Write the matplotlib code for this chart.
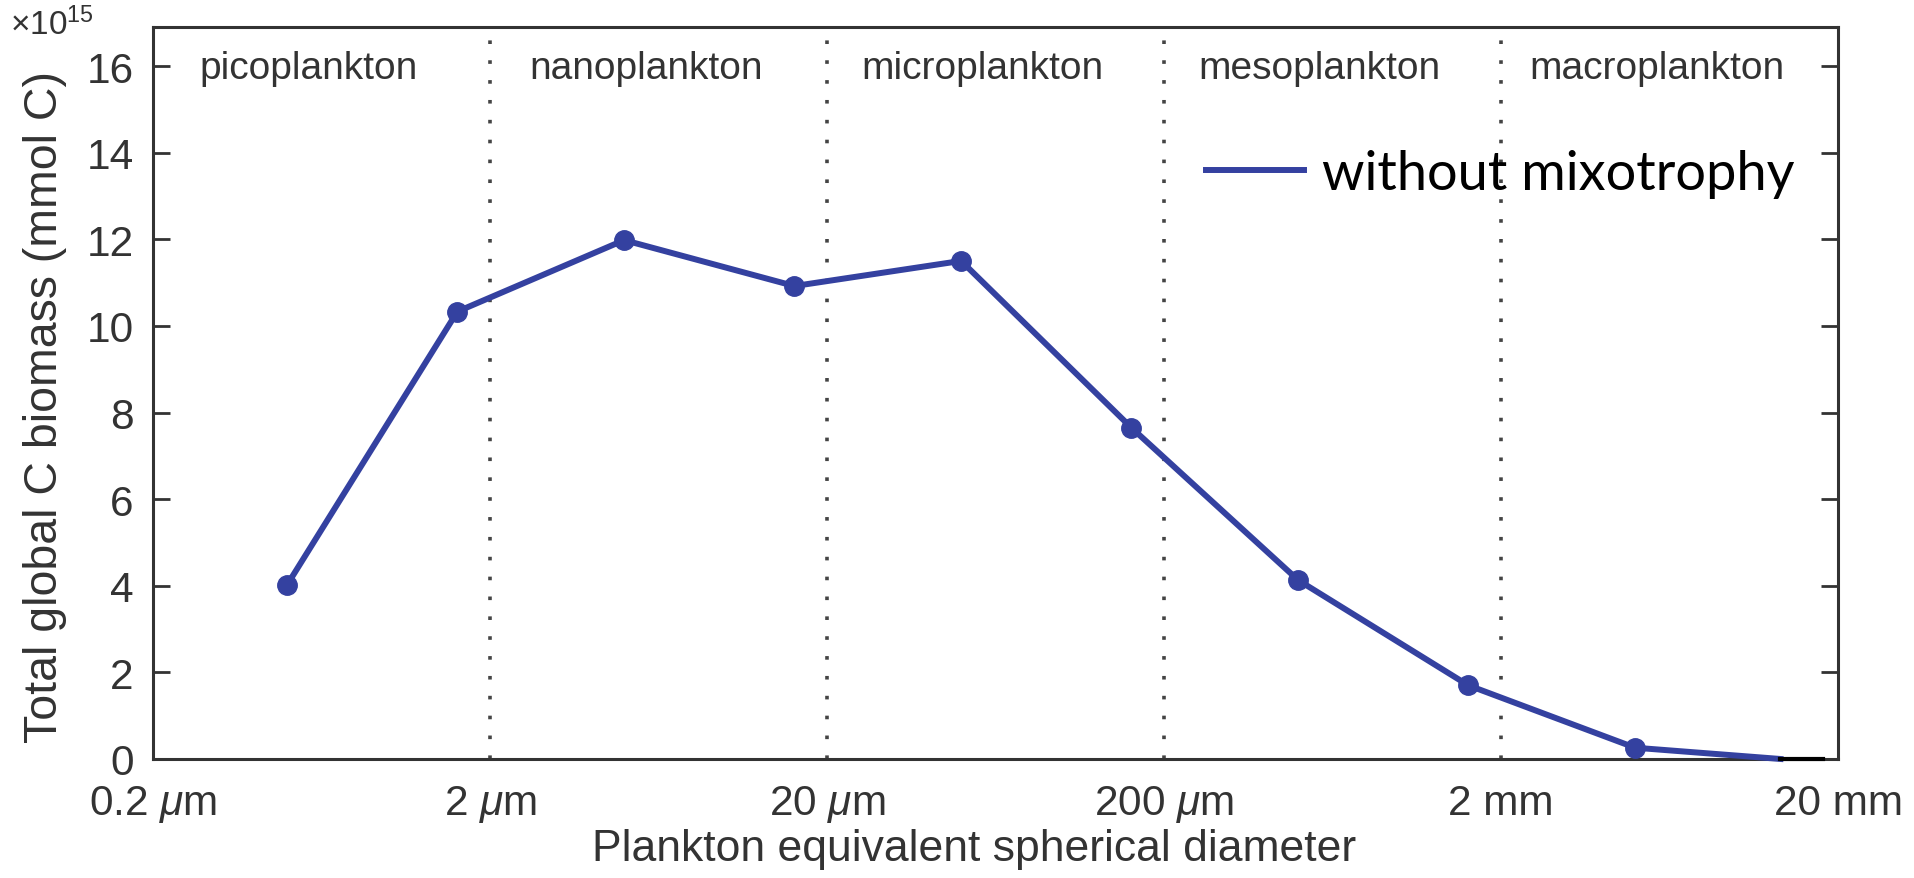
import numpy as np
import matplotlib
matplotlib.use('Agg')
import matplotlib.pyplot as plt
from matplotlib.ticker import FixedLocator, NullLocator

# plankton size (um) and biomass (x1e15 mmol C)
diam = [0.5, 1.6, 5, 16, 50, 160, 500, 1600, 5000, 13500]
biomass = [4.02, 10.33, 11.98, 10.92, 11.50, 7.65, 4.13, 1.70, 0.26, 0.0]

# short black stub left over at the bottom right of the original
stub_x = [13500, 18000]
stub_y = [0, 0]

xticks = [0.2, 2, 20, 200, 2000, 20000]
xticklabels = ['0.2 $\\mu$m', '2 $\\mu$m', '20 $\\mu$m', '200 $\\mu$m', '2 mm', '20 mm']
yticks = [0, 2, 4, 6, 8, 10, 12, 14, 16]

class_edges = [2, 20, 200, 2000]
class_names = ['picoplankton', 'nanoplankton', 'microplankton', 'mesoplankton', 'macroplankton']
class_mid = [0.58, 5.8, 58, 580, 5800]

lineCol = '#3441a0'
axCol = '#333333'

plt.rcParams['font.family'] = ['Liberation Sans', 'DejaVu Sans']
plt.rcParams['mathtext.fontset'] = 'custom'
plt.rcParams['mathtext.it'] = 'Liberation Sans:italic'
plt.rcParams['mathtext.rm'] = 'Liberation Sans'

fig = plt.figure(figsize=(19.15, 8.79), dpi=100)
ax = fig.add_axes([0.0799, 0.1354, 0.9598 - 0.0799, 0.9681 - 0.1354])

for e in class_edges:
    ax.axvline(e, color='#444444', ls=(0, (1, 4.5)), lw=2.6, zorder=1)

for m, n in zip(class_mid, class_names):
    ax.text(m, 15.95, n, ha='center', va='center', fontsize=28, color='#333333')

ax.plot(diam, biomass, '-', color=lineCol, lw=4.3, zorder=3, clip_on=False,
        label='without mixotrophy')
ax.plot(diam[:-1], biomass[:-1], 'o', color=lineCol, ms=14, zorder=4)
ax.plot(stub_x, stub_y, '-', color='black', lw=3, zorder=5, clip_on=False)

ax.set_xscale('log')
ax.set_xlim(0.2, 20000)
ax.set_ylim(0, 16.9)
ax.xaxis.set_major_locator(FixedLocator(xticks))
ax.xaxis.set_minor_locator(NullLocator())
ax.set_xticklabels(xticklabels)
ax.set_yticks(yticks)

ax.tick_params(axis='both', direction='in', labelsize=30.5, colors=axCol,
               length=12, width=2, labelcolor='#333333')
ax.tick_params(axis='y', right=True, pad=14)
ax.tick_params(axis='x', length=0, pad=17)
for s in ax.spines.values():
    s.set_color(axCol)
    s.set_linewidth(2.2)

ax.set_xlabel('Plankton equivalent spherical diameter', fontsize=32, color='#333333')
ax.set_ylabel('Total global C biomass (mmol C)', fontsize=33.5, color='#333333')
ax.xaxis.set_label_coords(0.487, -0.094)
ax.yaxis.set_label_coords(-0.051, 0.482)

fig.text(0.005, 0.972, '$\\times$10$^{15}$', fontsize=24, color='#333333', ha='left', va='center')

leg = ax.legend(loc='center right', bbox_to_anchor=(0.974, 0.80), frameon=False,
                borderaxespad=0, borderpad=0,
                prop={'family': 'Lato', 'size': 39}, handlelength=1.8, handletextpad=0.33)
for t in leg.get_texts():
    t.set_color('black')

fig.savefig('out.png', dpi=100)
